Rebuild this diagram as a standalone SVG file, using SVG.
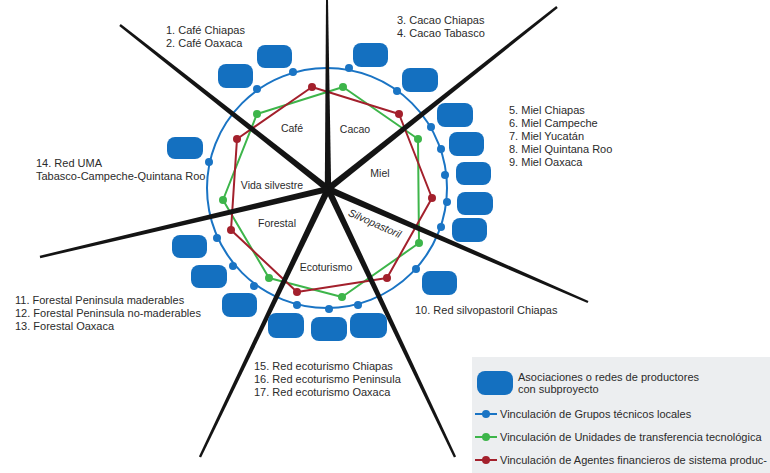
<svg xmlns="http://www.w3.org/2000/svg" width="770" height="473" viewBox="0 0 770 473">
<defs>
<style>
text{font-family:"Liberation Sans",Arial,sans-serif;fill:#2b2b2b;font-size:11px}
.sec{font-size:10.5px}
.box{fill:#1470c0}
.bd{fill:#1a74c4}
.gd{fill:#3db54a}
.rd{fill:#a3202c}
.div{fill:#141414}
</style>
</defs>
<rect width="770" height="473" fill="#ffffff"/>
<g id="legend-bg"><rect x="472" y="357" width="298" height="116" fill="#eceef0"/></g>

<g id="networks">
<circle cx="327" cy="188" r="120" fill="none" stroke="#1a74c4" stroke-width="2"/>
<polygon points="257,114 343,87 418,139 419,243 342,297 269,278 223,200" fill="none" stroke="#3db54a" stroke-width="2" stroke-linejoin="round"/>
<polygon points="312,87 399,114 432,198 387,278 297,292 231,230 237,139" fill="none" stroke="#a3202c" stroke-width="2" stroke-linejoin="round"/>
</g>

<g id="connectors">
<polygon class="div" points="331.2,189 324.8,189 326,0 328,0"/>
<polygon class="div" points="329.98,186.49 120.74,24.06 119.26,25.94 326.02,191.51"/>
<polygon class="div" points="329.99,191.5 557.75,7.94 556.25,6.06 326.01,186.5"/>
<polygon class="div" points="326.72,191.94 587.52,303.1 588.48,300.9 329.28,186.06"/>
<polygon class="div" points="325.11,190.37 453.92,457.51 456.08,456.49 330.89,187.63"/>
<polygon class="div" points="325.11,187.62 198.92,456.48 201.08,457.52 330.89,190.38"/>
<polygon class="div" points="327.26,185.89 39.72,255.83 40.28,258.17 328.74,192.11"/>
</g>

<g id="dots">
<g class="bd">
<circle cx="257" cy="89" r="4"/><circle cx="293" cy="72" r="4"/><circle cx="349" cy="68" r="4"/><circle cx="397" cy="91" r="4"/>
<circle cx="431" cy="127" r="4"/><circle cx="441" cy="149" r="4"/><circle cx="445" cy="175" r="4"/><circle cx="447" cy="202" r="4"/><circle cx="441" cy="227" r="4"/>
<circle cx="416" cy="269" r="4"/><circle cx="358" cy="305" r="4"/><circle cx="329" cy="309" r="4"/><circle cx="297" cy="305" r="4"/>
<circle cx="254" cy="286" r="4"/><circle cx="233" cy="266" r="4"/><circle cx="217" cy="238" r="4"/><circle cx="209" cy="162" r="4"/>
</g>
<g class="gd">
<circle cx="257" cy="114" r="4"/><circle cx="343" cy="87" r="4"/><circle cx="418" cy="139" r="4"/><circle cx="419" cy="243" r="4"/><circle cx="342" cy="297" r="4"/><circle cx="269" cy="278" r="4"/><circle cx="223" cy="200" r="4"/>
</g>
<g class="rd">
<circle cx="312" cy="87" r="4"/><circle cx="399" cy="114" r="4"/><circle cx="432" cy="198" r="4"/><circle cx="387" cy="278" r="4"/><circle cx="297" cy="292" r="4"/><circle cx="231" cy="230" r="4"/><circle cx="237" cy="139" r="4"/>
</g>
</g>

<g id="sector-cafe">
<text class="sec" x="292" y="132" text-anchor="middle">Café</text>
<rect class="box" x="257" y="45" width="35" height="23" rx="8"/>
<rect class="box" x="218" y="64" width="35" height="24" rx="8"/>
<text x="166" y="34">1. Café Chiapas</text>
<text x="166" y="47">2. Café Oaxaca</text>
</g>
<g id="sector-cacao">
<text class="sec" x="355" y="133" text-anchor="middle">Cacao</text>
<rect class="box" x="353" y="43" width="35" height="24" rx="8"/>
<rect class="box" x="402" y="68" width="36" height="24" rx="8"/>
<text x="397" y="24">3. Cacao Chiapas</text>
<text x="397" y="37">4. Cacao Tabasco</text>
</g>
<g id="sector-miel">
<text class="sec" x="380" y="177" text-anchor="middle">Miel</text>
<rect class="box" x="437" y="103" width="36" height="24" rx="8"/>
<rect class="box" x="449" y="132" width="35" height="24" rx="8"/>
<rect class="box" x="456" y="162" width="35" height="23" rx="8"/>
<rect class="box" x="457" y="192" width="36" height="23" rx="8"/>
<rect class="box" x="452" y="218" width="35" height="24" rx="8"/>
<text x="509" y="114">5. Miel Chiapas</text>
<text x="509" y="127">6. Miel Campeche</text>
<text x="509" y="140">7. Miel Yucatán</text>
<text x="509" y="153">8. Miel Quintana Roo</text>
<text x="509" y="166">9. Miel Oaxaca</text>
</g>
<g id="sector-silvopastoril">
<text class="sec" x="375" y="227" text-anchor="middle" font-style="italic" transform="rotate(24 375 223)">Silvopastoril</text>
<rect class="box" x="422" y="271" width="35" height="24" rx="8"/>
<text x="415" y="314">10. Red silvopastoril Chiapas</text>
</g>
<g id="sector-ecoturismo">
<text class="sec" x="326" y="271" text-anchor="middle">Ecoturismo</text>
<rect class="box" x="268" y="313" width="36" height="25" rx="8"/>
<rect class="box" x="311" y="317" width="36" height="24" rx="8"/>
<rect class="box" x="350" y="313" width="37" height="25" rx="8"/>
<text x="254" y="370">15. Red ecoturismo Chiapas</text>
<text x="254" y="383">16. Red ecoturismo Peninsula</text>
<text x="254" y="396">17. Red ecoturismo Oaxaca</text>
</g>
<g id="sector-forestal">
<text class="sec" x="277" y="227" text-anchor="middle">Forestal</text>
<rect class="box" x="172" y="235" width="35" height="23" rx="8"/>
<rect class="box" x="191" y="265" width="36" height="23" rx="8"/>
<rect class="box" x="222" y="293" width="35" height="24" rx="8"/>
<text x="15" y="304">11. Forestal Peninsula maderables</text>
<text x="15" y="317">12. Forestal Peninsula no-maderables</text>
<text x="15" y="330">13. Forestal Oaxaca</text>
</g>
<g id="sector-vida-silvestre">
<text class="sec" x="272" y="189" text-anchor="middle">Vida silvestre</text>
<rect class="box" x="167" y="137" width="36" height="22" rx="8"/>
<text x="36" y="167">14. Red UMA</text>
<text x="36" y="180">Tabasco-Campeche-Quintana Roo</text>
</g>

<g id="legend">
<rect class="box" x="477" y="371" width="36" height="24" rx="8"/>
<text x="518" y="381">Asociaciones o redes de productores</text>
<text x="518" y="393">con subproyecto</text>
<line x1="475" y1="414" x2="497" y2="414" stroke="#1a74c4" stroke-width="2"/><circle class="bd" cx="486" cy="414" r="4"/>
<text x="500" y="418">Vinculación de Grupos técnicos locales</text>
<line x1="475" y1="437" x2="497" y2="437" stroke="#3db54a" stroke-width="2"/><circle class="gd" cx="486" cy="437" r="4"/>
<text x="500" y="441">Vinculación de Unidades de transferencia tecnológica</text>
<line x1="475" y1="460" x2="497" y2="460" stroke="#a3202c" stroke-width="2"/><circle class="rd" cx="486" cy="460" r="4"/>
<text x="500" y="464">Vinculación de Agentes financieros de sistema produc-</text>
</g>
</svg>
